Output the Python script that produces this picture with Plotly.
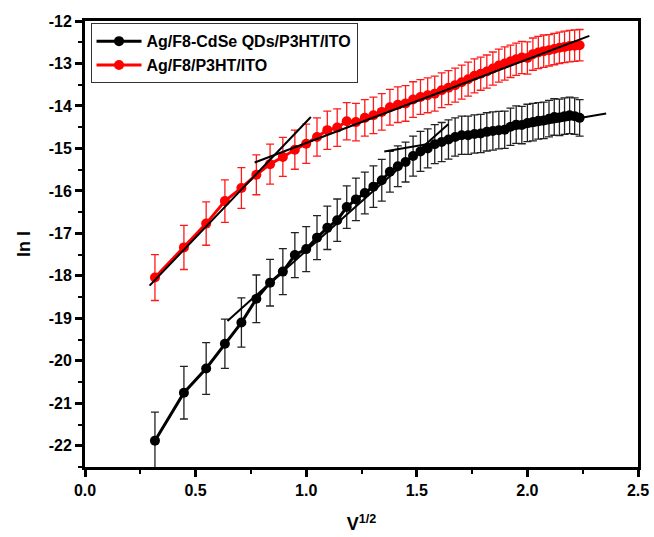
import plotly.graph_objects as go
import numpy as np

# Voltage steps (V) -> x = V^1/2
volts = [round(0.1 * i, 1) for i in range(1, 51)]
x_vals = [float(np.sqrt(v)) for v in volts]

black_name = "Ag/F8-CdSe QDs/P3HT/ITO"
red_name = "Ag/F8/P3HT/ITO"

black_y = [-21.88, -20.75, -20.18, -19.60, -19.10, -18.54, -18.16, -17.90, -17.51, -17.37,
           -17.10, -16.87, -16.69, -16.38, -16.20, -16.05, -15.90, -15.75, -15.55, -15.42,
           -15.32, -15.18, -15.07, -15.00, -14.90, -14.85, -14.79, -14.73, -14.69, -14.69,
           -14.66, -14.65, -14.61, -14.59, -14.57, -14.56, -14.49, -14.44, -14.45, -14.40,
           -14.38, -14.35, -14.34, -14.30, -14.26, -14.27, -14.24, -14.22, -14.24, -14.28]
black_err = [0.67, 0.62, 0.61, 0.58, 0.58, 0.56, 0.55, 0.54, 0.53, 0.53,
             0.52, 0.51, 0.50, 0.50, 0.50, 0.49, 0.49, 0.49, 0.48, 0.48,
             0.47, 0.47, 0.47, 0.46, 0.46, 0.46, 0.46, 0.45, 0.45, 0.45,
             0.45, 0.45, 0.45, 0.45, 0.44, 0.44, 0.44, 0.44, 0.44, 0.44,
             0.44, 0.43, 0.43, 0.43, 0.43, 0.43, 0.43, 0.43, 0.43, 0.43]

red_y = [-18.04, -17.33, -16.77, -16.24, -15.93, -15.62, -15.37, -15.20, -15.03, -14.89,
         -14.73, -14.57, -14.51, -14.36, -14.38, -14.28, -14.22, -14.14, -14.03, -13.97,
         -13.94, -13.85, -13.79, -13.75, -13.71, -13.63, -13.57, -13.51, -13.44, -13.37,
         -13.29, -13.24, -13.19, -13.12, -13.05, -13.00, -12.95, -12.90, -12.86, -12.87,
         -12.78, -12.74, -12.71, -12.69, -12.66, -12.63, -12.61, -12.59, -12.58, -12.57]
red_err = [0.54, 0.52, 0.51, 0.50, 0.48, 0.47, 0.47, 0.46, 0.46, 0.46,
           0.45, 0.45, 0.44, 0.44, 0.44, 0.43, 0.43, 0.43, 0.42, 0.42,
           0.42, 0.42, 0.41, 0.41, 0.41, 0.41, 0.40, 0.40, 0.40, 0.40,
           0.40, 0.39, 0.39, 0.39, 0.39, 0.39, 0.38, 0.38, 0.38, 0.38,
           0.38, 0.38, 0.38, 0.37, 0.37, 0.37, 0.37, 0.37, 0.37, 0.37]

# Linear fit segments (x endpoints, y endpoints)
fit_red1_x = [0.292, 1.021]
fit_red1_y = [-18.23, -14.26]
fit_red2_x = [0.767, 2.28]
fit_red2_y = [-15.33, -12.35]
fit_blk1_x = [0.644, 1.642]
fit_blk1_y = [-19.06, -14.43]
fit_blk2_x = [1.353, 2.356]
fit_blk2_y = [-15.07, -14.18]

# Tick labels
x_tickvals = [0.0, 0.5, 1.0, 1.5, 2.0, 2.5]
x_ticktext = ["0.0", "0.5", "1.0", "1.5", "2.0", "2.5"]
y_tickvals = [-12, -13, -14, -15, -16, -17, -18, -19, -20, -21, -22]
y_ticktext = ["-12", "-13", "-14", "-15", "-16", "-17", "-18", "-19", "-20", "-21", "-22"]

FONT = "Arial, Liberation Sans, sans-serif"

fig = go.Figure()

fig.add_trace(go.Scatter(
    x=x_vals, y=black_y, name=black_name, mode="lines+markers",
    line=dict(color="black", width=3),
    marker=dict(color="black", size=10),
    error_y=dict(type="data", array=black_err, visible=True, color="#222222",
                 thickness=1.3, width=4),
))
fig.add_trace(go.Scatter(
    x=x_vals, y=red_y, name=red_name, mode="lines+markers",
    line=dict(color="#ff0000", width=3),
    marker=dict(color="#ff0000", size=10),
    error_y=dict(type="data", array=red_err, visible=True, color="#ff1a1a",
                 thickness=1.3, width=4),
))

for fx, fy in [(fit_red1_x, fit_red1_y), (fit_red2_x, fit_red2_y),
               (fit_blk1_x, fit_blk1_y), (fit_blk2_x, fit_blk2_y)]:
    fig.add_trace(go.Scatter(x=fx, y=fy, mode="lines", showlegend=False,
                             line=dict(color="black", width=2), hoverinfo="skip"))

fig.update_layout(
    width=654, height=537,
    paper_bgcolor="white", plot_bgcolor="white",
    margin=dict(l=85, r=16, t=21, b=70),
    font=dict(family=FONT, color="black", size=14),
    legend=dict(x=0.01, y=0.995, xanchor="left", yanchor="top",
                bgcolor="white", bordercolor="#333333", borderwidth=1,
                font=dict(family=FONT, size=16, color="black", weight="bold"),
                tracegroupgap=0, itemwidth=45),
    showlegend=True,
)

fig.update_xaxes(
    range=[0, 2.5], tickvals=x_tickvals, ticktext=x_ticktext, automargin=False,
    showline=True, linecolor="black", linewidth=3, mirror=True,
    ticks="outside", ticklen=7, tickwidth=3, tickcolor="black",
    minor=dict(ticks="outside", dtick=0.25, tick0=0, ticklen=4, tickwidth=2, tickcolor="black"),
    showgrid=False, zeroline=False,
    tickfont=dict(family=FONT, size=16, color="black", weight="bold"),
    title=dict(text="V<sup>1/2</sup>", standoff=20,
               font=dict(family=FONT, size=18, color="black", weight="bold")),
)
fig.update_yaxes(
    range=[-22.5, -12], tickvals=y_tickvals, ticktext=y_ticktext, automargin=False,
    showline=True, linecolor="black", linewidth=3, mirror=True,
    ticks="outside", ticklen=7, tickwidth=3, tickcolor="black",
    minor=dict(ticks="outside", dtick=0.5, tick0=-12, ticklen=4, tickwidth=2, tickcolor="black"),
    showgrid=False, zeroline=False,
    tickfont=dict(family=FONT, size=16, color="black", weight="bold"),
    title=dict(text="ln I", standoff=14,
               font=dict(family=FONT, size=18, color="black", weight="bold")),
)

fig.write_html("out.html", config={"displayModeBar": False},
               post_script="document.body.style.margin='0';document.body.style.overflow='hidden';")
